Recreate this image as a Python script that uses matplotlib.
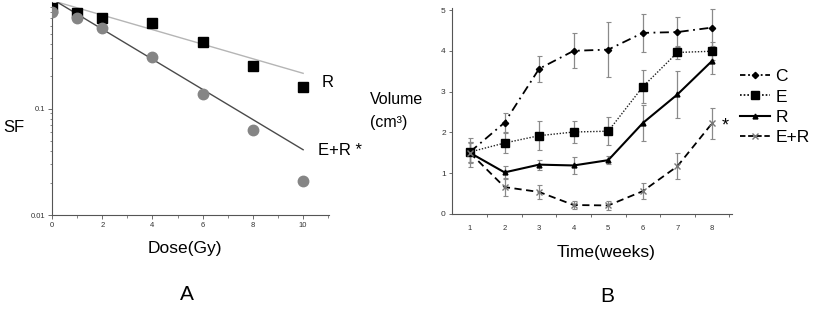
import matplotlib
matplotlib.use("Agg")
import matplotlib.pyplot as plt
from matplotlib.ticker import FixedLocator, NullFormatter, LogLocator
from matplotlib.lines import Line2D
import numpy as np

plt.rcParams['font.family'] = ['Liberation Sans', 'DejaVu Sans']

# ---------- Panel A data ----------
dose = [0, 1, 2, 4, 6, 8, 10]
sf_R = [0.88, 0.78, 0.71, 0.63, 0.42, 0.25, 0.159]
sf_ER = [0.80, 0.71, 0.57, 0.307, 0.138, 0.0634, 0.021]
fit_dose = [0.2, 10]
fit_R = [1.0, 0.214]
fit_ER = [1.0, 0.041]

# ---------- Panel B data ----------
weeks = [1, 2, 3, 4, 5, 6, 7, 8]
vol_C = [1.52, 2.24, 3.56, 4.00, 4.03, 4.44, 4.46, 4.57]
err_C = [0.25, 0.23, 0.32, 0.43, 0.68, 0.46, 0.36, 0.45]
vol_E = [1.52, 1.74, 1.92, 2.01, 2.03, 3.12, 3.96, 3.99]
err_E = [0.25, 0.24, 0.36, 0.26, 0.35, 0.40, 0.15, 0.22]
vol_R = [1.50, 1.02, 1.21, 1.19, 1.32, 2.23, 2.93, 3.75]
err_R = [0.25, 0.15, 0.12, 0.20, 0.10, 0.45, 0.57, 0.33]
vol_ER = [1.50, 0.66, 0.54, 0.22, 0.21, 0.56, 1.17, 2.22]
err_ER = [0.36, 0.22, 0.17, 0.10, 0.10, 0.20, 0.32, 0.38]

W, H = 813, 309
fig = plt.figure(figsize=(W / 100, H / 100), dpi=100)

def fx(px):
    return px / W

def fy(py):
    return 1 - py / H

axis_col = '#555555'

# ---------- Panel A ----------
axA = fig.add_axes([fx(52), fy(215), fx(329) - fx(52), fy(2) - fy(215)])
axA.plot(fit_dose, fit_R, color='#b5b5b5', lw=1.0, zorder=2)
axA.plot(fit_dose, fit_ER, color='#4a4a4a', lw=1.0, zorder=2)
axA.plot(dose, sf_R, 's', color='black', ms=7, mec='black', zorder=3)
axA.plot(dose, sf_ER, 'o', color='#858585', ms=7.5, mec='#858585', zorder=3)
axA.set_yscale('log')
axA.set_xlim(0, 11.03)
axA.set_ylim(0.01, 1.0)
axA.yaxis.set_major_locator(FixedLocator([0.01, 0.1]))
axA.yaxis.set_major_formatter(matplotlib.ticker.FixedFormatter(['0.01', '0.1']))
axA.yaxis.set_minor_locator(LogLocator(base=10, subs=np.arange(2, 10)))
axA.yaxis.set_minor_formatter(NullFormatter())
axA.xaxis.set_major_locator(FixedLocator([0, 2, 4, 6, 8, 10]))
axA.xaxis.set_minor_locator(FixedLocator([1, 3, 5, 7, 9, 11]))
for s in ['top', 'right']:
    axA.spines[s].set_visible(False)
for s in ['left', 'bottom']:
    axA.spines[s].set_color(axis_col)
    axA.spines[s].set_linewidth(0.8)
axA.tick_params(which='major', length=3, width=0.6, color=axis_col, labelsize=5.5, pad=2, labelcolor='#333333')
axA.tick_params(which='minor', length=1.8, width=0.5, color=axis_col)
axA.text(10.75, 0.176, 'R', fontsize=12, va='center', ha='left', clip_on=False)
axA.text(10.6, 0.040, 'E+R *', fontsize=12, va='center', ha='left', clip_on=False)
fig.text(fx(14), fy(128), 'SF', fontsize=12, ha='center', va='center')
fig.text(fx(185), fy(248), 'Dose(Gy)', fontsize=12.5, ha='center', va='center')
fig.text(fx(187), fy(295), 'A', fontsize=15, ha='center', va='center')

# ---------- Panel B ----------
axB = fig.add_axes([fx(452), fy(214), fx(732) - fx(452), fy(8) - fy(214)])
ebkw = dict(ecolor='#8a8a8a', elinewidth=0.9, capsize=1.8, capthick=0.8)
axB.errorbar(weeks, vol_C, yerr=err_C, color='black', ls=(0, (5, 2.5, 1, 2.5)), lw=1.3,
             marker='D', ms=3.2, mfc='black', mec='black', zorder=3, **ebkw)
axB.errorbar(weeks, vol_E, yerr=err_E, color='#222222', ls=(0, (1, 1.2)), lw=1.0,
             marker='s', ms=5.5, mfc='black', mec='black', zorder=3, **ebkw)
axB.errorbar(weeks, vol_R, yerr=err_R, color='black', ls='-', lw=1.5,
             marker='^', ms=3.5, mfc='black', mec='black', zorder=3, **ebkw)
axB.errorbar(weeks, vol_ER, yerr=err_ER, color='black', ls=(0, (4, 2.5)), lw=1.3,
             marker='x', ms=4, mec='#777777', zorder=3, **ebkw)
axB.set_xlim(0.48, 8.58)
axB.set_ylim(0, 5.05)
axB.xaxis.set_major_locator(FixedLocator(weeks))
axB.xaxis.set_minor_locator(FixedLocator([1.5, 2.5, 3.5, 4.5, 5.5, 6.5, 7.5, 8.5]))
axB.yaxis.set_major_locator(FixedLocator([0, 1, 2, 3, 4, 5]))
for s in ['top', 'right']:
    axB.spines[s].set_visible(False)
for s in ['left', 'bottom']:
    axB.spines[s].set_color(axis_col)
    axB.spines[s].set_linewidth(0.8)
axB.tick_params(axis='x', which='major', length=0, labelsize=5.5, pad=8, labelcolor='#333333')
axB.tick_params(axis='x', which='minor', length=2.5, width=0.6, color=axis_col)
axB.tick_params(axis='y', which='major', length=2.5, width=0.6, color=axis_col, labelsize=6, pad=2, labelcolor='#333333')
axB.text(8.27, 2.16, '*', fontsize=13, ha='left', va='center', clip_on=False)

fig.text(fx(370), fy(100), 'Volume', fontsize=11.5, ha='left', va='center')
fig.text(fx(370), fy(122), '(cm³)', fontsize=11.5, ha='left', va='center')
fig.text(fx(606), fy(253), 'Time(weeks)', fontsize=12.5, ha='center', va='center')
fig.text(fx(607), fy(296), 'B', fontsize=15, ha='center', va='center')

handles = [
    Line2D([], [], color='black', ls=(0, (3, 1.5, 1, 1.5)), lw=1.3, marker='D', ms=3.2),
    Line2D([], [], color='black', ls=(0, (1, 1.2)), lw=1.2, marker='s', ms=5.5),
    Line2D([], [], color='black', ls='-', lw=1.5, marker='^', ms=3.5),
    Line2D([], [], color='black', ls=(0, (3, 1.5)), lw=1.3, marker='x', ms=4, mec='#777777'),
]
labels = ['C', 'E', 'R', 'E+R']
fig.legend(handles, labels, loc='upper left', bbox_to_anchor=(fx(740), fy(69)),
           frameon=False, fontsize=12.5, handlelength=1.7, handletextpad=0.35,
           labelspacing=0.3, borderpad=0, borderaxespad=0)

fig.savefig('out.png', dpi=100)
